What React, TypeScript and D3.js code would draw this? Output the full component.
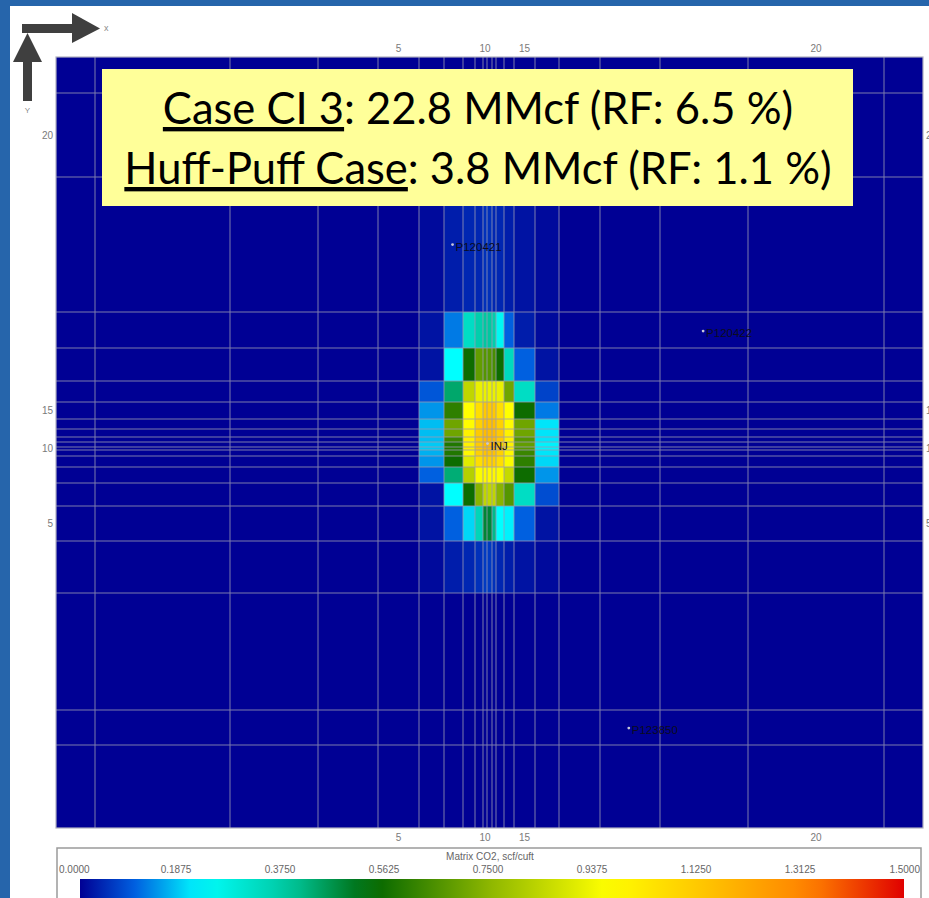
import React from "react";
import * as d3 from "d3";

// Grid block widths (I = 1..21, left to right)
const DX = [39, 135, 88, 60, 41, 25, 19, 12, 8, 4, 5, 4, 8, 10, 21, 24, 41, 60, 88, 136, 39];
// Grid block heights (J = 1..21, bottom to top)
const DY = [83, 35, 117, 52, 35, 23, 16, 11, 6, 3, 5, 5, 8, 10, 17, 21, 33, 36, 135, 84, 36];

// Matrix CO2 values (scf/cuft) for J = 19 (top) .. 4 (bottom), I = 5 .. 17
const ROW_J = [19, 18, 17, 16, 15, 14, 13, 12, 11, 10, 9, 8, 7, 6, 5, 4];
const COL_I = [5, 6, 7, 8, 9, 10, 11, 12, 13, 14, 15, 16, 17];
const CO2 = [
  [0, 0.01, 0.03, 0.04, 0.04, 0.05, 0.05, 0.04, 0.04, 0.03, 0.02, 0.01, 0],
  [0, 0.02, 0.12, 0.32, 0.36, 0.38, 0.38, 0.36, 0.24, 0.1, 0.03, 0.01, 0],
  [0, 0.02, 0.22, 0.55, 0.68, 0.66, 0.66, 0.64, 0.55, 0.33, 0.1, 0.02, 0],
  [0, 0.09, 0.43, 0.84, 0.92, 0.92, 0.92, 0.92, 0.92, 0.7, 0.32, 0.07, 0],
  [0, 0.14, 0.6, 0.96, 1.06, 1.12, 1.12, 1.12, 1.06, 0.96, 0.55, 0.12, 0],
  [0, 0.17, 0.7, 0.97, 1.1, 1.15, 1.15, 1.15, 1.1, 0.97, 0.7, 0.2, 0],
  [0, 0.17, 0.7, 1.0, 1.12, 1.16, 1.16, 1.16, 1.12, 1.0, 0.7, 0.2, 0],
  [0, 0.17, 0.62, 1.0, 1.12, 1.16, 1.16, 1.16, 1.12, 1.0, 0.66, 0.2, 0],
  [0, 0.18, 0.58, 1.0, 1.12, 1.16, 1.16, 1.16, 1.12, 1.0, 0.68, 0.21, 0],
  [0, 0.18, 0.58, 1.0, 1.12, 1.16, 1.16, 1.16, 1.12, 1.0, 0.66, 0.21, 0],
  [0, 0.16, 0.58, 0.98, 1.1, 1.14, 1.14, 1.14, 1.1, 0.98, 0.62, 0.2, 0],
  [0, 0.14, 0.55, 0.9, 1.06, 1.1, 1.1, 1.1, 1.06, 0.95, 0.6, 0.19, 0],
  [0, 0.1, 0.42, 0.82, 0.95, 0.98, 0.98, 0.98, 0.95, 0.85, 0.55, 0.14, 0],
  [0, 0.02, 0.22, 0.55, 0.74, 0.84, 0.84, 0.84, 0.74, 0.66, 0.32, 0.08, 0],
  [0, 0.02, 0.1, 0.19, 0.34, 0.48, 0.48, 0.4, 0.22, 0.21, 0.1, 0.02, 0],
  [0, 0.01, 0.03, 0.04, 0.05, 0.06, 0.06, 0.05, 0.04, 0.03, 0.02, 0.01, 0],
];

const TICK_I = [5, 10, 15, 20];
const TICK_J = [5, 10, 15, 20];

const WELLS = [
  { name: "P120421", i: 7.45, j: 19.47 },
  { name: "P120422", i: 19.49, j: 18.36 },
  { name: "INJ", i: 11.1, j: 10.8 },
  { name: "P123850", i: 18.48, j: 2.37 },
];

const LEGEND_TICKS = [0, 0.1875, 0.375, 0.5625, 0.75, 0.9375, 1.125, 1.3125, 1.5];
const LEGEND_TITLE = "Matrix CO2, scf/cuft";

const CMAP_STOPS = [0, 0.1, 0.22, 0.38, 0.53, 0.75, 0.96, 1.15, 1.33, 1.5];
const CMAP_COLORS = ["#000094", "#0060e0", "#00ffff", "#00c8a0", "#006400", "#90b800", "#ffff00", "#ffc000", "#ff8000", "#e00000"];

export default function App() {
  const W = 929, H = 898;
  const px0 = 56, px1 = 923, py0 = 57, py1 = 828;

  const cumX = [0, ...d3.cumsum(DX)];
  const cumY = [0, ...d3.cumsum(DY)];
  const xs = d3.scaleLinear().domain([0, cumX[cumX.length - 1]]).range([px0, px1]);
  const ys = d3.scaleLinear().domain([0, cumY[cumY.length - 1]]).range([py1, py0]);
  const color = d3.scaleLinear<string>().domain(CMAP_STOPS).range(CMAP_COLORS).interpolate(d3.interpolateRgb).clamp(true);

  const valueAt = (i: number, j: number) => {
    const r = ROW_J.indexOf(j);
    const c = COL_I.indexOf(i);
    if (r < 0 || c < 0) return 0;
    return CO2[r][c];
  };

  const cells: any[] = [];
  for (let i = 1; i <= DX.length; i++) {
    for (let j = 1; j <= DY.length; j++) {
      const x = xs(cumX[i - 1]);
      const w = xs(cumX[i]) - x;
      const y = ys(cumY[j]);
      const h = ys(cumY[j - 1]) - y;
      cells.push(<rect key={`c${i}-${j}`} x={x} y={y} width={w} height={h} fill={color(valueAt(i, j))} />);
    }
  }

  const centerX = (i: number) => (xs(cumX[i - 1]) + xs(cumX[i])) / 2;
  const centerY = (j: number) => (ys(cumY[j - 1]) + ys(cumY[j])) / 2;
  const posX = (fi: number) => { const k = Math.floor(fi); return xs(cumX[k - 1] + (fi - k) * DX[k - 1]); };
  const posY = (fj: number) => { const k = Math.floor(fj); return ys(cumY[k - 1] + (fj - k) * DY[k - 1]); };

  const gridStroke = "#9a9ab4";
  const legendScale = d3.scaleLinear().domain([0, 1.5]).range([72, 904]);
  const gradStops = d3.range(0, 1.5001, 0.05);

  const tickFont = "'Liberation Sans', Arial, sans-serif";

  return (
    <svg width={W} height={H} style={{ position: "absolute", left: 0, top: 0, display: "block" }}>
      <defs>
        <linearGradient id="cbar" x1="0" x2="1" y1="0" y2="0">
          {gradStops.map((v) => (
            <stop key={v} offset={v / 1.5} stopColor={color(v)} />
          ))}
        </linearGradient>
        <clipPath id="plotClip"><rect x={px0} y={py0} width={px1 - px0} height={py1 - py0} /></clipPath>
      </defs>
      <rect x={0} y={0} width={W} height={H} fill="#2665ab" />
      <rect x={10} y={6} width={W} height={H} fill="#ffffff" />

      {/* axis arrows */}
      <g fill="#3f3f3f">
        <rect x={22} y={24} width={53} height={9} />
        <polygon points="72,13 100,28.5 72,43" />
        <rect x={23} y={60} width={9} height={41} />
        <polygon points="13,62 27.5,33 42,62" />
      </g>
      <text x={104} y={31} fontSize={9} fill="#8a8a8a" fontFamily={tickFont}>x</text>
      <text x={27.5} y={113} fontSize={8} fill="#8a8a8a" fontFamily={tickFont} textAnchor="middle">Y</text>

      <g clipPath="url(#plotClip)">{cells}</g>
      <g stroke={gridStroke} strokeWidth={1} opacity={0.8}>
        {cumX.slice(1, -1).map((c, k) => (
          <line key={`vx${k}`} x1={xs(c)} x2={xs(c)} y1={py0} y2={py1} />
        ))}
        {cumY.slice(1, -1).map((c, k) => (
          <line key={`hy${k}`} x1={px0} x2={px1} y1={ys(c)} y2={ys(c)} />
        ))}
      </g>
      <rect x={px0} y={py0} width={px1 - px0} height={py1 - py0} fill="none" stroke="#b0b0c0" strokeWidth={1.2} />

      {/* tick labels */}
      <g fontFamily={tickFont} fontSize={10} fill="#7a7a7a">
        {TICK_I.map((i) => (
          <text key={`tt${i}`} x={centerX(i)} y={52} textAnchor="middle">{i}</text>
        ))}
        {TICK_I.map((i) => (
          <text key={`tb${i}`} x={centerX(i)} y={841} textAnchor="middle">{i}</text>
        ))}
        {TICK_J.map((j) => (
          <text key={`tl${j}`} x={53} y={centerY(j) + 3.5} textAnchor="end">{j}</text>
        ))}
        {TICK_J.map((j) => (
          <text key={`tr${j}`} x={926} y={centerY(j) + 3.5} textAnchor="start">{j}</text>
        ))}
      </g>

      {/* wells */}
      <g fontFamily={tickFont} fontSize={11.5}>
        {WELLS.map((w) => {
          const x = posX(w.i), y = posY(w.j);
          return (
            <g key={w.name}>
              <circle cx={x} cy={y - 4} r={1.4} fill="#c8c8d8" />
              <text x={x + 3} y={y + 2} fill="#0c0c20">{w.name}</text>
            </g>
          );
        })}
      </g>

      {/* annotation box */}
      <rect x={102} y={69} width={751} height={137} fill="#ffff99" />
      <g fontFamily="Lato, 'Open Sans', sans-serif" fontSize={43.5} fill="#000">
        <text x={478} y={124} textAnchor="middle">
          <tspan textDecoration="underline">Case CI 3</tspan>
          <tspan>: 22.8 MMcf (RF: 6.5 %)</tspan>
        </text>
        <text x={478} y={184} textAnchor="middle">
          <tspan textDecoration="underline">Huff-Puff Case</tspan>
          <tspan>: 3.8 MMcf (RF: 1.1 %)</tspan>
        </text>
      </g>

      {/* legend */}
      <rect x={57} y={848} width={864} height={60} fill="#ffffff" stroke="#9a9a9a" strokeWidth={1.5} />
      <text x={490} y={860} textAnchor="middle" fontFamily={tickFont} fontSize={10} fill="#666">{LEGEND_TITLE}</text>
      <g fontFamily={tickFont} fontSize={10} fill="#666">
        {LEGEND_TICKS.map((t, k) => {
          const last = k === LEGEND_TICKS.length - 1;
          const first = k === 0;
          return (
            <text key={`lt${k}`} x={first ? 59 : last ? 920 : legendScale(t)} y={873} textAnchor={first ? "start" : last ? "end" : "middle"}>
              {t.toFixed(4)}
            </text>
          );
        })}
      </g>
      <rect x={80} y={879} width={824} height={25} fill="url(#cbar)" />
    </svg>
  );
}
